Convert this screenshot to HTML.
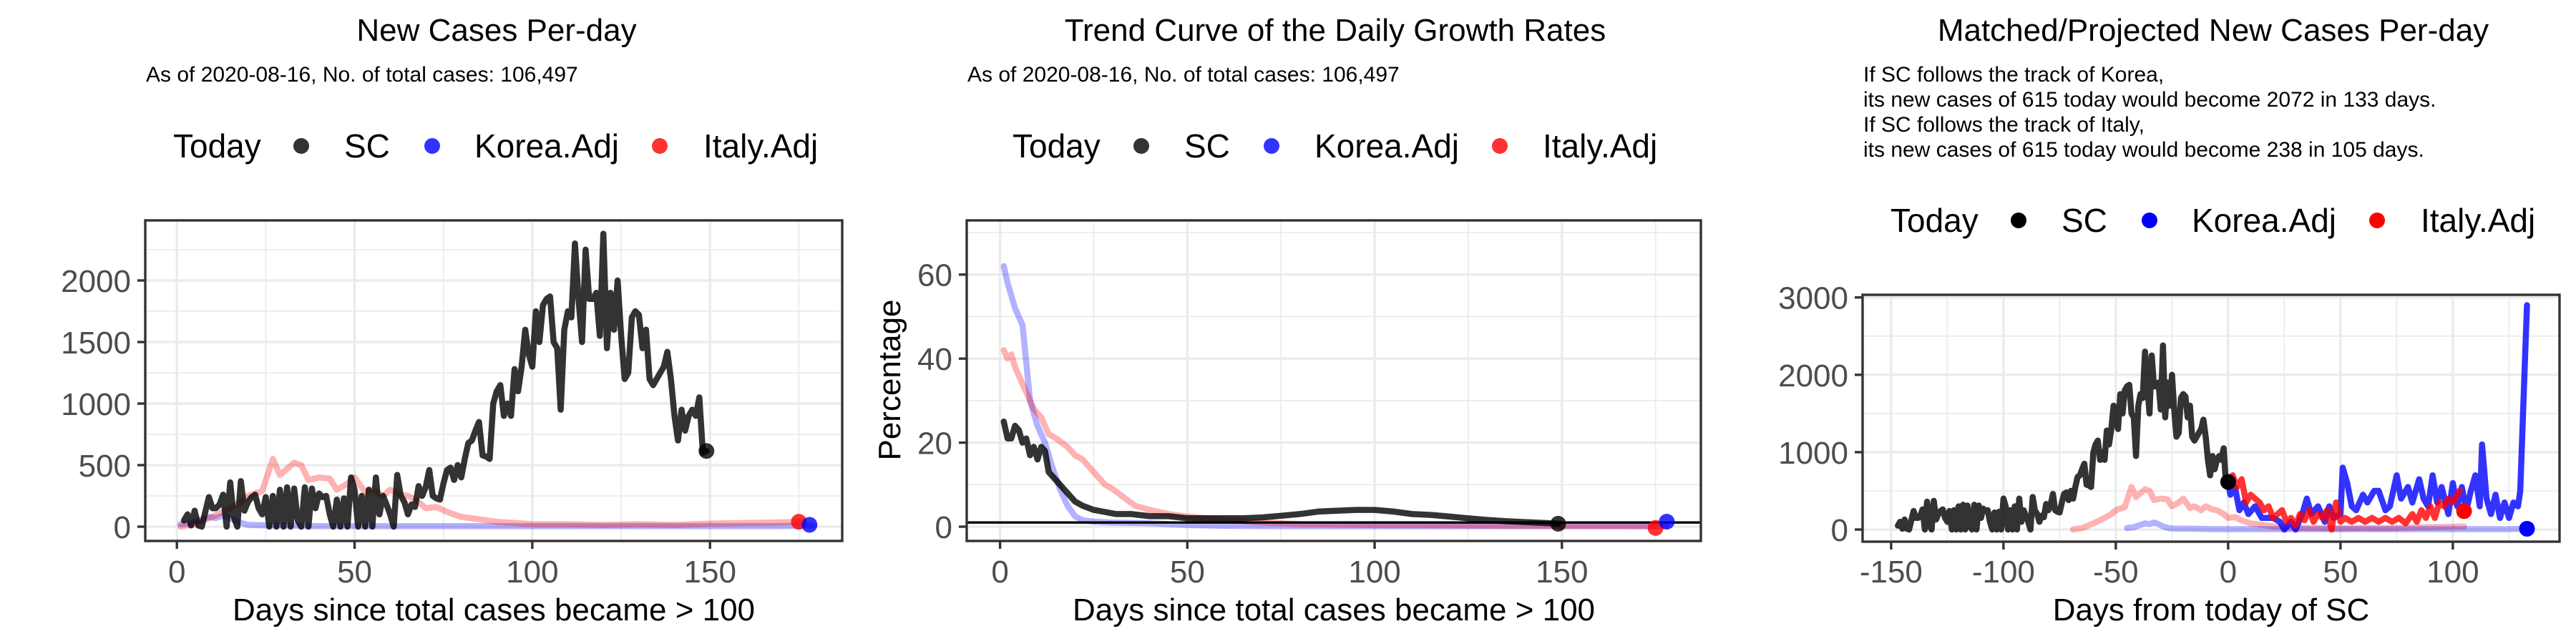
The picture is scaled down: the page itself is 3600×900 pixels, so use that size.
<!DOCTYPE html>
<html><head><meta charset="utf-8"><style>
html,body{margin:0;padding:0;background:#fff;}
svg{display:block;font-family:"Liberation Sans",Arial,sans-serif;}
</style></head><body>
<svg id="chart" width="3600" height="900" viewBox="0 0 3600 900" xmlns="http://www.w3.org/2000/svg">
<rect width="3600" height="900" fill="#fff"/>
<text x="694" y="57" font-size="44" text-anchor="middle">New Cases Per-day</text>
<text x="204" y="114" font-size="30">As of 2020-08-16, No. of total cases: 106,497</text>
<text x="1866" y="57" font-size="44" text-anchor="middle">Trend Curve of the Daily Growth Rates</text>
<text x="1352" y="114" font-size="30">As of 2020-08-16, No. of total cases: 106,497</text>
<text x="3093" y="57" font-size="44" text-anchor="middle">Matched/Projected New Cases Per-day</text>
<g font-size="30">
<text x="2604" y="114">If SC follows the track of Korea,</text>
<text x="2604" y="149">its new cases of 615 today would become 2072 in 133 days.</text>
<text x="2604" y="184">If SC follows the track of Italy,</text>
<text x="2604" y="219">its new cases of 615 today would become 238 in 105 days.</text>
</g>
<g id="legends"></g>
<g id="panels"></g>
</svg>
<script>
// ---------- DATA ----------
const scStartDay = 2;
const scCases = [50,100,10,130,10,0,120,240,150,150,180,260,0,360,80,0,370,130,200,240,260,150,100,240,0,250,0,300,0,320,0,310,50,0,320,0,310,150,270,240,250,100,0,220,0,230,0,400,300,0,250,0,300,0,400,100,250,180,100,0,420,250,200,100,180,160,330,250,320,460,250,230,220,350,460,480,380,500,400,550,680,700,780,850,580,570,550,1000,1100,1150,900,1000,900,1280,1100,1300,1600,1400,1300,1750,1500,1800,1850,1870,1500,1450,950,1600,1750,1700,2300,1850,1500,2250,1850,1850,1900,1550,2380,1450,1900,1600,2000,1550,1200,1250,1700,1750,1720,1450,1600,1200,1150,1200,1250,1300,1420,1200,900,700,950,780,900,950,900,1050,600,615];
const koreaDays = [1,4,7,9,11,13,15,17,20,25,30,40,50,60,80,100,120,140,160,170,179];
const koreaCases = [20,30,60,80,70,90,70,40,15,10,10,5,5,5,5,5,5,5,5,5,10];
const italyDays = [1,5,10,15,18,20,22,24,27,29,31,33,35,37,40,43,45,48,50,53,55,58,60,63,65,68,70,73,76,80,85,90,95,100,110,120,130,140,150,160,170,175];
const italyCases = [0,20,80,150,200,250,270,290,550,420,470,520,500,380,400,390,300,350,400,280,300,250,300,260,250,200,150,160,120,80,60,40,30,20,20,15,20,15,25,30,35,40];
const scGrowthDays = [1,2,3,4,5,6,7,8,9,10,11,12,13,14,16,18,20,22,25,28,31,35,40,45,50,55,60,65,70,75,80,85,90,95,100,105,110,115,120,125,130,135,140,145,149];
const scGrowth = [25,21,21,24,23,20,21,17,19,16,19,18,13,12,10,8,6,5,4,3.5,3,3,2.5,2.5,2,2,2,2,2.2,2.6,3,3.6,3.8,4,4,3.6,3,2.8,2.4,2,1.6,1.3,1.1,0.9,0.7];
const koreaGrowthDays = [1,2,3,4,5,6,8,10,12,14,16,18,20,22,25,30,40,50,60,80,100,120,150,178];
const koreaGrowth = [62,58,55,52,50,48,30,24,20,14,9,5,2.5,1.5,1.2,1,0.8,0.4,0.2,0.1,0.1,0.1,0.1,0.1];
const italyGrowthDays = [1,2,3,4,5,7,9,11,13,15,18,20,22,24,26,28,30,33,36,40,45,50,55,60,70,80,100,120,150,175];
const italyGrowth = [42,40,41,38,36,32,28,26,22,21,19,17,16,14,12,10,9,7,5,4,3,2.4,2,1.6,1,0.6,0.4,0.3,0.2,0.1];
const scShift = -149, koreaShift = -46, italyShift = -70;
const projKoreaDays = [0,1,3,5,7,9,12,15,20,23,25,28,30,33,35,37,40,43,45,47,50,51,53,55,57,60,62,65,67,70,72,75,77,80,82,85,87,89,91,93,95,98,100,102,104,106,108,110,112,113,115,117,119,121,123,125,127,129,130,131,132,133];
const projKoreaCases = [615,450,550,250,350,200,300,150,150,100,0,100,0,200,400,200,300,100,300,150,200,800,600,300,250,450,350,500,500,250,300,700,400,550,350,650,400,300,700,350,550,200,600,300,550,250,500,700,300,1100,400,200,450,150,350,150,350,300,500,1300,2100,2900];
const projItalyDays = [0,2,4,6,8,10,12,14,16,18,20,22,24,26,28,30,32,34,36,38,40,42,44,46,48,50,52,55,58,61,64,67,70,73,76,79,82,84,86,88,90,92,94,96,98,100,103];
const projItalyCases = [615,700,550,650,350,450,400,350,250,300,150,200,250,100,150,50,200,120,250,100,200,150,250,0,350,100,150,100,150,100,150,100,150,100,150,80,200,100,250,150,300,150,350,300,400,350,500];
const p1TodayDays = [149,175,178]; const p1TodayVals = [615,40,15];
const p2TodayDays = [149,175,178]; const p2TodayVals = [0.7,-0.3,1.2];
const p3TodayDays = [0,105,133]; const p3TodayVals = [615,238,10];
const p1XTicks = [0,50,100,150]; const p1YTicks = [0,500,1000,1500,2000];
const p2XTicks = [0,50,100,150]; const p2YTicks = [0,20,40,60];
const p3XTicks = [-150,-100,-50,0,50,100]; const p3YTicks = [0,1000,2000,3000];

// ---------- DRAWING ----------
const NS = "http://www.w3.org/2000/svg";
const root = document.getElementById('panels');
function mk(tag, attrs, parent){const e=document.createElementNS(NS,tag);for(const k in attrs)e.setAttribute(k,attrs[k]);(parent||root).appendChild(e);return e;}
function makeScale(d0,d1,r0,r1){return v=>r0+(v-d0)*(r1-r0)/(d1-d0);}

function panel(cfg){
  const g = mk('g',{});
  
  
  const {L,T,R,B} = cfg;
  const xs = makeScale(cfg.xd[0],cfg.xd[1],L,R), ys = makeScale(cfg.yd[0],cfg.yd[1],B,T);
  for (let v=cfg.xMinor[0]; v<=cfg.xMinor[1]; v+=cfg.xMinor[2]) mk('line',{x1:xs(v),x2:xs(v),y1:T,y2:B,stroke:'#ebebeb','stroke-width':1.7},g);
  for (let v=cfg.yMinor[0]; v<=cfg.yMinor[1]; v+=cfg.yMinor[2]) mk('line',{x1:L,x2:R,y1:ys(v),y2:ys(v),stroke:'#ebebeb','stroke-width':1.7},g);
  cfg.xt.forEach(v=>mk('line',{x1:xs(v),x2:xs(v),y1:T,y2:B,stroke:'#ebebeb','stroke-width':3.4},g));
  cfg.yt.forEach(v=>mk('line',{x1:L,x2:R,y1:ys(v),y2:ys(v),stroke:'#ebebeb','stroke-width':3.4},g));
  const clipId = cfg.name+'-clip';
  const cp = mk('clipPath',{id:clipId},g); mk('rect',{x:L,y:T,width:R-L,height:B-T},cp);
  const plot = mk('g',{'clip-path':'url(#'+clipId+')'},g);
  cfg.series.forEach(s=>{
    const pts = s.x.map((xv,i)=>xs(xv+(s.shift||0)).toFixed(1)+','+ys(s.y[i]).toFixed(1)).join(' ');
    const pl = mk('polyline',{points:pts,fill:'none',stroke:s.color,'stroke-width':s.w,'stroke-linejoin':'round','stroke-linecap':'round'},plot);
    
    
  });
  if (cfg.hline!==undefined){
    const hl = mk('line',{x1:L,x2:R,y1:ys(cfg.hline),y2:ys(cfg.hline),stroke:'#000','stroke-width':3.4},plot);
    
    
  }
  cfg.dots.x.forEach((xv,i)=>{
    const c = mk('circle',{cx:xs(xv),cy:ys(cfg.dots.y[i]),r:11,fill:cfg.dots.c[i]},plot);
    
    
  });
  mk('rect',{x:L,y:T,width:R-L,height:B-T,fill:'none',stroke:'#333','stroke-width':3.4},g);
  cfg.xt.forEach(v=>{
    mk('line',{x1:xs(v),x2:xs(v),y1:B,y2:B+11,stroke:'#333','stroke-width':3.4},g);
    const t = mk('text',{x:xs(v),y:814,'font-size':44,fill:'#4d4d4d','text-anchor':'middle'},g); t.textContent=v;
    
    
  });
  cfg.yt.forEach(v=>{
    mk('line',{x1:L-11,x2:L,y1:ys(v),y2:ys(v),stroke:'#333','stroke-width':3.4},g);
    const t = mk('text',{x:L-20,y:ys(v)+16,'font-size':44,fill:'#4d4d4d','text-anchor':'end'},g); t.textContent=v;
    
    
  });
  const xt = mk('text',{x:(L+R)/2,y:867,'font-size':44,'text-anchor':'middle'},g); xt.textContent=cfg.xlab;
  
  
  if (cfg.ylab){
    const yt = mk('text',{x:0,y:0,'font-size':44,'text-anchor':'middle',transform:'translate(1258,531) rotate(-90)'},g); yt.textContent=cfg.ylab;
    
    
  }
}

const scX = scCases.map((v,i)=>scStartDay+i);
const LK='rgba(0,0,255,0.3)', LI='rgba(255,0,0,0.3)', SCC='rgba(0,0,0,0.8)';
const W = 8.5;
panel({name:'panel-new-cases',L:203,T:308,R:1177,B:756,xd:[-8.9,187.2],yd:[-116,2488],
  xt:p1XTicks,yt:p1YTicks,xMinor:[25,175,50],yMinor:[250,2250,500],
  series:[{name:'korea-adj-line',x:koreaDays,y:koreaCases,color:LK,w:W},
          {name:'italy-adj-line',x:italyDays,y:italyCases,color:LI,w:W},
          {name:'sc-line',x:scX,y:scCases,color:SCC,w:W}],
  dots:{x:p1TodayDays,y:p1TodayVals,c:['rgba(0,0,0,0.8)','rgba(255,0,0,0.8)','rgba(0,0,255,0.8)']},
  xlab:'Days since total cases became > 100'});
panel({name:'panel-growth-rates',L:1351,T:308,R:2377,B:756,xd:[-8.9,187.1],yd:[-3.4,72.9],
  xt:p2XTicks,yt:p2YTicks,xMinor:[25,175,50],yMinor:[10,70,20],hline:1,
  series:[{name:'korea-adj-growth',x:koreaGrowthDays,y:koreaGrowth,color:LK,w:W},
          {name:'italy-adj-growth',x:italyGrowthDays,y:italyGrowth,color:LI,w:W},
          {name:'sc-growth',x:scGrowthDays,y:scGrowth,color:SCC,w:W}],
  dots:{x:p2TodayDays,y:p2TodayVals,c:['rgba(0,0,0,0.8)','rgba(255,0,0,0.8)','rgba(0,0,255,0.8)']},
  xlab:'Days since total cases became > 100',ylab:'Percentage'});
panel({name:'panel-projected',L:2603,T:412,R:3577,B:757,xd:[-162.7,147.5],yd:[-157,3034],
  xt:p3XTicks,yt:p3YTicks,xMinor:[-125,125,50],yMinor:[500,2500,1000],
  series:[{name:'sc-line-shifted',x:scX,y:scCases,color:SCC,w:W,shift:scShift},
          {name:'italy-adj-matched',x:italyDays,y:italyCases,color:LI,w:W,shift:italyShift},
          {name:'korea-adj-matched',x:koreaDays,y:koreaCases,color:LK,w:W,shift:koreaShift},
          {name:'korea-projection',x:projKoreaDays,y:projKoreaCases,color:'rgba(0,0,255,0.8)',w:W},
          {name:'italy-projection',x:projItalyDays,y:projItalyCases,color:'rgba(255,0,0,0.8)',w:W}],
  dots:{x:p3TodayDays,y:p3TodayVals,c:['#000','#f00','#00f']},
  xlab:'Days from today of SC'});

const lg = document.getElementById('legends');
function legend(base, today, xs, y, cols){
  const g = mk('g',{},lg);
  
  
  const t = mk('text',{x:today,y:y+16,'font-size':46},g); t.textContent='Today';
  const labels=['SC','Korea.Adj','Italy.Adj'];
  labels.forEach((lab,i)=>{
    const c = mk('circle',{cx:xs[i][0],cy:y,r:11,fill:cols[i]},g);
    
    
    const tx = mk('text',{x:xs[i][1],y:y+16,'font-size':46},g); tx.textContent=lab;
    
    
  });
}
const aCols=['rgba(0,0,0,0.8)','rgba(0,0,255,0.8)','rgba(255,0,0,0.8)'];
legend('panel1-legend',242,[[421,481],[604,663],[922,983]],204,aCols);
legend('panel2-legend',1415,[[1595,1655],[1777,1837],[2096,2156]],204,aCols);
legend('panel3-legend',2642,[[2821,2881],[3004,3063],[3322,3383]],308,['#000','#00f','#f00']);
</script>
</body></html>
